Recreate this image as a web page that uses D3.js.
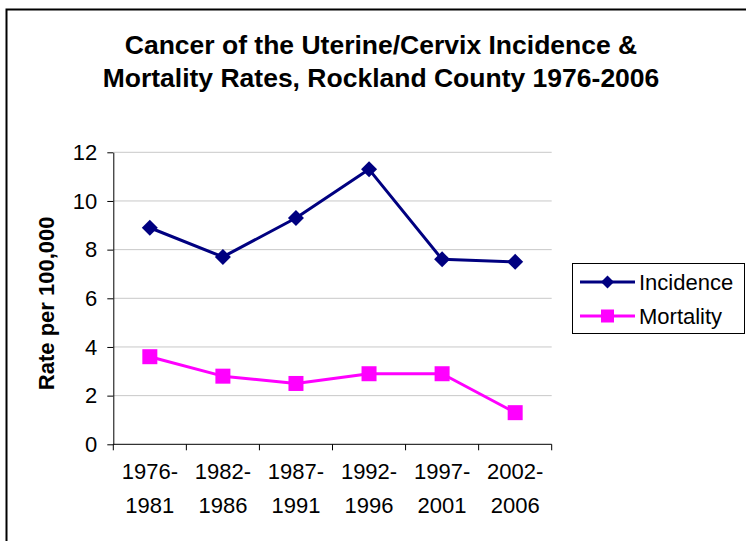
<!DOCTYPE html>
<html>
<head>
<meta charset="utf-8">
<script src="https://cdn.jsdelivr.net/npm/d3@7"></script>
<style>
  html, body { margin: 0; padding: 0; background: #fff; }
  svg { display: block; }
  text { font-family: "Liberation Sans", Arial, sans-serif; fill: #000; }
</style>
</head>
<body>
<svg id="chart" width="746" height="541"></svg>
<script>
const categories = [["1976-", "1981"], ["1982-", "1986"], ["1987-", "1991"], ["1992-", "1996"], ["1997-", "2001"], ["2002-", "2006"]];
const incidence = [8.9, 7.7, 9.3, 11.3, 7.6, 7.5];
const mortality = [3.6, 2.8, 2.5, 2.9, 2.9, 1.3];
const yTicks = [0, 2, 4, 6, 8, 10, 12];
const titleLines = ["Cancer of the Uterine/Cervix Incidence &", "Mortality Rates, Rockland County 1976-2006"];
const yLabel = "Rate per 100,000";
const seriesNames = ["Incidence", "Mortality"];

const svg = d3.select("#chart");

// outer border (only top & left visible in reference)
svg.append("rect").attr("x", 6.5).attr("y", 9.5).attr("width", 900).attr("height", 700)
  .attr("fill", "none").attr("stroke", "#000").attr("stroke-width", 2);

const plot = { left: 113.3, right: 551.7, top: 152.3, bottom: 444.3 };

const x = d3.scaleBand().domain(d3.range(categories.length)).range([plot.left, plot.right]);
const y = d3.scaleLinear().domain([0, 12]).range([plot.bottom, plot.top]);

// gridlines
svg.append("g").selectAll("line").data(yTicks.filter(d => d > 0)).join("line")
  .attr("x1", plot.left).attr("x2", plot.right)
  .attr("y1", d => y(d)).attr("y2", d => y(d))
  .attr("stroke", "#c8c8c8").attr("stroke-width", 1);

// y axis
const yAxis = svg.append("g").attr("transform", `translate(${plot.left},0)`)
  .call(d3.axisLeft(y).tickValues(yTicks).tickSize(6).tickPadding(10).tickSizeOuter(0));
yAxis.select(".domain").attr("stroke", "#000");
yAxis.selectAll(".tick line").attr("stroke", "#000");
yAxis.selectAll(".tick text").attr("font-size", 22).attr("font-family", "Liberation Sans, Arial, sans-serif").attr("fill", "#000");

// x axis
const xAxis = svg.append("g").attr("transform", `translate(0,${plot.bottom})`)
  .call(d3.axisBottom(x).tickSize(0).tickFormat(""));
xAxis.select(".domain").attr("stroke", "#000").attr("d", `M${plot.left},0H${plot.right}`);
xAxis.selectAll(".tick").remove();
const boundaries = d3.range(categories.length + 1).map(i => plot.left + i * x.step());
svg.append("g").selectAll("line").data(boundaries).join("line")
  .attr("x1", d => d).attr("x2", d => d)
  .attr("y1", plot.bottom).attr("y2", plot.bottom + 6)
  .attr("stroke", "#000").attr("stroke-width", 1);

const xl = svg.append("g").selectAll("text").data(categories).join("text")
  .attr("x", (d, i) => x(i) + x.bandwidth() / 2)
  .attr("y", 479)
  .attr("text-anchor", "middle").attr("font-size", 22);
xl.append("tspan").attr("x", (d, i) => x(i) + x.bandwidth() / 2).attr("y", 479).text(d => d[0]);
xl.append("tspan").attr("x", (d, i) => x(i) + x.bandwidth() / 2).attr("y", 513).text(d => d[1]);

// title
svg.append("g").selectAll("text").data(titleLines).join("text")
  .attr("x", 381).attr("y", (d, i) => 54 + i * 33)
  .attr("text-anchor", "middle").attr("font-size", 26.5).attr("font-weight", "bold")
  .text(d => d);

// y label
svg.append("text")
  .attr("transform", `translate(54,${(plot.top + plot.bottom) / 2 + 5}) rotate(-90)`)
  .attr("text-anchor", "middle").attr("font-size", 22).attr("font-weight", "bold")
  .text(yLabel);

// series
const line = d3.line().x((d, i) => x(i) + x.bandwidth() / 2).y(d => y(d));
const navy = "#000080", magenta = "#ff00ff";

svg.append("path").datum(incidence).attr("d", line)
  .attr("fill", "none").attr("stroke", navy).attr("stroke-width", 3).attr("stroke-linejoin", "round");
svg.append("path").datum(mortality).attr("d", line)
  .attr("fill", "none").attr("stroke", magenta).attr("stroke-width", 3).attr("stroke-linejoin", "round");

function diamondPath(s) { return `M0,${-s}L${s},0L0,${s}L${-s},0Z`; }

svg.append("g").selectAll("path").data(incidence).join("path")
  .attr("transform", (d, i) => `translate(${x(i) + x.bandwidth() / 2},${y(d)})`)
  .attr("d", diamondPath(8)).attr("fill", navy);

svg.append("g").selectAll("rect").data(mortality).join("rect")
  .attr("x", (d, i) => x(i) + x.bandwidth() / 2 - 7.5)
  .attr("y", d => y(d) - 7.5)
  .attr("width", 15).attr("height", 15).attr("fill", magenta);

// legend
const lg = svg.append("g");
lg.append("rect").attr("x", 572.5).attr("y", 263.5).attr("width", 172).attr("height", 70)
  .attr("fill", "#fff").attr("stroke", "#000").attr("stroke-width", 1);
const legendRows = [
  { name: seriesNames[0], color: navy, yc: 282, shape: "diamond" },
  { name: seriesNames[1], color: magenta, yc: 316, shape: "square" }
];
legendRows.forEach(r => {
  lg.append("line").attr("x1", 580).attr("x2", 635).attr("y1", r.yc).attr("y2", r.yc)
    .attr("stroke", r.color).attr("stroke-width", 3);
  if (r.shape === "diamond") {
    lg.append("path").attr("transform", `translate(607.5,${r.yc})`).attr("d", diamondPath(6.5)).attr("fill", r.color);
  } else {
    lg.append("rect").attr("x", 601).attr("y", r.yc - 6.5).attr("width", 13).attr("height", 13).attr("fill", r.color);
  }
  lg.append("text").attr("x", 639).attr("y", r.yc + 8).attr("font-size", 22).text(r.name);
});
</script>
</body>
</html>
